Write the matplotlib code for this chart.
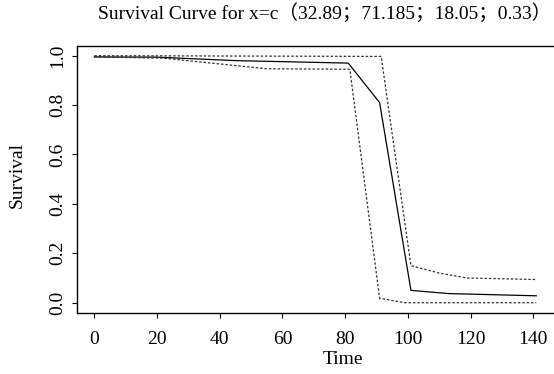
import matplotlib
matplotlib.use("Agg")
import matplotlib.pyplot as plt

# survival estimate and its confidence band
time_est = [0, 20, 45, 81, 91, 101, 113, 141]
surv_est = [0.995, 0.994, 0.98, 0.97, 0.81, 0.05, 0.037, 0.028]

time_upper = [0, 91.5, 101, 110, 119, 141]
surv_upper = [1.0, 0.997, 0.15, 0.12, 0.10, 0.094]

time_lower = [0, 22, 55, 81.5, 91, 99, 141]
surv_lower = [0.995, 0.99, 0.947, 0.945, 0.018, 0.0, 0.0]

x_ticks = [0, 20, 40, 60, 80, 100, 120, 140]
y_ticks = [0.0, 0.2, 0.4, 0.6, 0.8, 1.0]

title = "Survival Curve for x=c（32.89；71.185；18.05；0.33）"

plt.rcParams["font.family"] = ["Liberation Serif", "Noto Sans CJK SC", "DejaVu Serif"]

W, H = 554, 374
fig = plt.figure(figsize=(W / 100, H / 100), dpi=100)
ax = fig.add_axes([76.7 / W, (H - 312.6) / H, 1 - 76.7 / W, (312.6 - 45.8) / H])

ax.plot(time_est, surv_est, color="black", lw=0.9)
ax.plot(time_upper, surv_upper, color="#333333", lw=0.9, linestyle=(0, (2, 1.5)))
ax.plot(time_lower, surv_lower, color="#333333", lw=0.9, linestyle=(0, (2, 1.5)))

ax.set_xlim(-5.64, 146.64)
ax.set_ylim(-0.04, 1.04)
ax.set_xticks(x_ticks)
ax.set_yticks(y_ticks)
ax.set_xticklabels([str(t) for t in x_ticks])
ax.set_yticklabels(["%.1f" % t for t in y_ticks], rotation=90, va="center")
ax.tick_params(axis="both", direction="out", length=3.5, width=0.8, labelsize=14, colors="black")
ax.tick_params(axis="x", pad=10)
ax.tick_params(axis="y", pad=4)
ax.spines["right"].set_visible(False)
for s in ["left", "bottom", "top"]:
    ax.spines[s].set_linewidth(1.0)

fig.text(325 / W, 1 - 13 / H, title, ha="center", va="center", fontsize=14)
fig.text(343 / W, 1 - 360 / H, "Time", ha="center", va="center", fontsize=14)
fig.text(17 / W, 1 - 175 / H, "Survival", ha="center", va="center", fontsize=14, rotation=90)

fig.savefig("out.png", dpi=100)
